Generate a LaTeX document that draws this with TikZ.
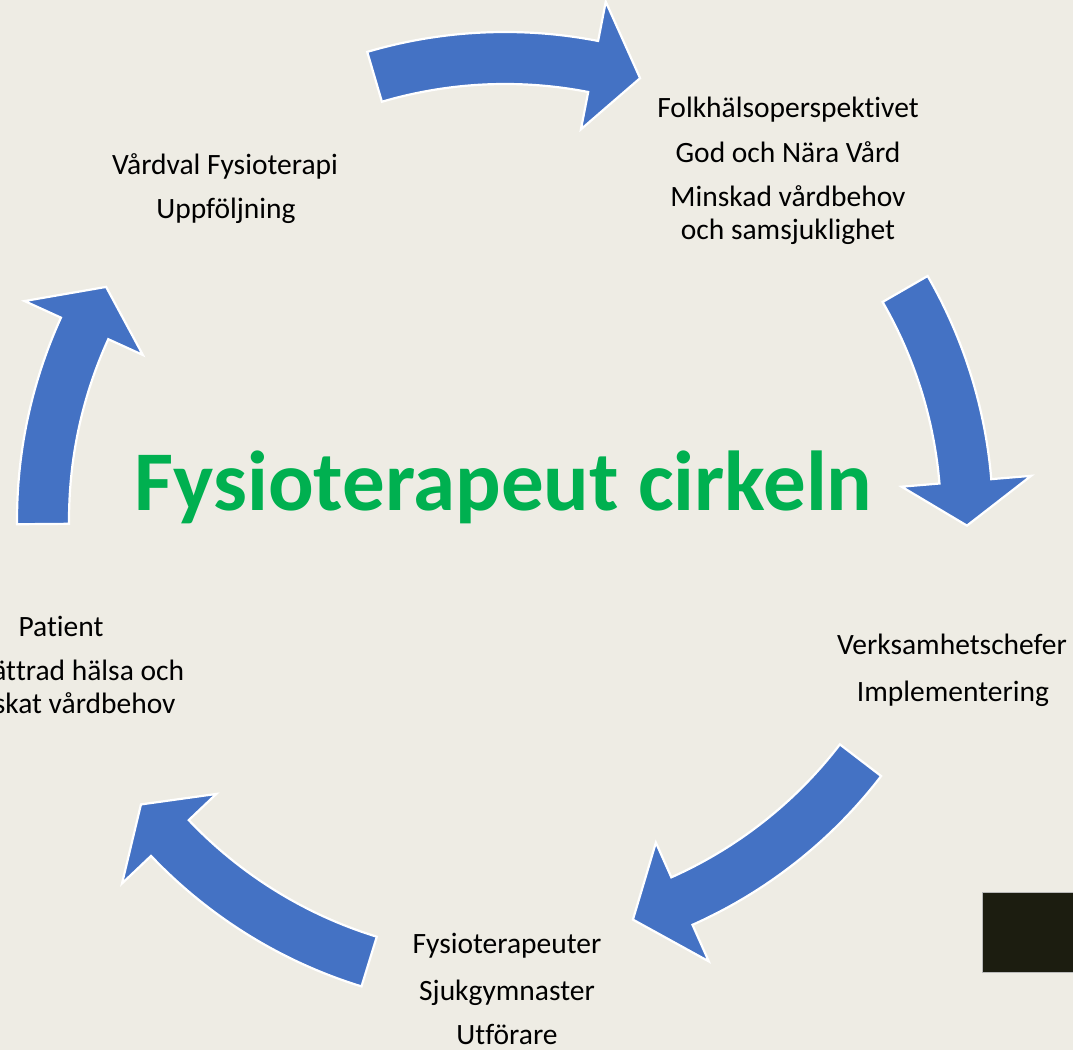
\documentclass[tikz,border=0pt]{standalone}
\usepackage{fontspec}
\setmainfont{Carlito}[RawFeature={-liga;-clig;-calt;-dlig;-hlig}]
\usetikzlibrary{calc}
\definecolor{bgbeige}{HTML}{EEECE4}
\definecolor{arrowblue}{HTML}{4472C4}
\definecolor{titlegreen}{HTML}{00B050}
\definecolor{boxdark}{HTML}{1C1D10}
\newcommand\nolig{\kern0pt}
% #1 centre, #2 tail angle, #3 head-base angle, #4 tip angle
\newcommand\cyclearrow[4]{%
  \filldraw[blockarrow] ($(#1)+(#2:488)$) arc[start angle=#2, end angle=#3, radius=488]
    -- ($(#1)+(#3:528)$) -- ($(#1)+(#4:462)$) -- ($(#1)+(#3:398)$) -- ($(#1)+(#3:436)$)
    arc[start angle=#3, end angle=#2, radius=436] -- cycle;}
\begin{document}
\begin{tikzpicture}[x=1pt,y=1pt,
  blockarrow/.style={fill=arrowblue, draw=white, line width=2.2pt, line join=miter},
  lbl/.style={font=\fontsize{29.5}{35}\selectfont, anchor=base, inner sep=0pt, text=black},
  titlestyle/.style={font=\fontsize{85}{100}\selectfont\bfseries, text=titlegreen, anchor=base, inner sep=0pt}]
\useasboundingbox (0,0) rectangle (1073,1050);
\clip (0,0) rectangle (1073,1050);
\fill[bgbeige] (0,0) rectangle (1073,1050);
\coordinate (A) at (505,530);
\coordinate (B) at (494,571);
% arrows
\cyclearrow{A}{106.4}{79}{73}
\cyclearrow{A}{30}{4.8}{-0.7}
\cyclearrow{B}{-37.5}{-66}{-72.5}
\cyclearrow{A}{-107.1}{-136.5}{-142}
\cyclearrow{A}{-179.5}{-204.5}{-210.3}
% title
\node[titlestyle] (title) at (503.5,539) {Fysioterapeut cirkeln};
% top right
\node[lbl] (tr1) at (788,932) {Folkhälsoperspekt\nolig ivet};
\node[lbl] (tr2) at (788,887) {God och Nära Vård};
\node[lbl] (tr3) at (788,843) {Minskad vårdbehov};
\node[lbl] (tr4) at (788,810) {och samsjuklighet};
% top left
\node[lbl] (tl1) at (225,875) {Vårdval Fysioterapi};
\node[lbl] (tl2) at (226,831) {Uppföljning};
% right
\node[lbl] (r1) at (952,395) {Verksamhetschefer};
\node[lbl] (r2) at (953,348) {Implementering};
% bottom
\node[lbl] (b1) at (507,97) {Fysioterapeuter};
\node[lbl] (b2) at (507,50) {Sjukgymnaster};
\node[lbl] (b3) at (507,6) {Utförare};
% left
\node[lbl] (l1) at (61,413) {Pat\nolig ient};
\node[lbl] (l2) at (61,369) {Förbät\nolig trad hälsa och};
\node[lbl] (l3) at (61,336) {Minskat vårdbehov};
% dark box
\filldraw[fill=boxdark, draw=gray!55, line width=1pt] (982,158) rectangle (1080,78);
\end{tikzpicture}
\end{document}
